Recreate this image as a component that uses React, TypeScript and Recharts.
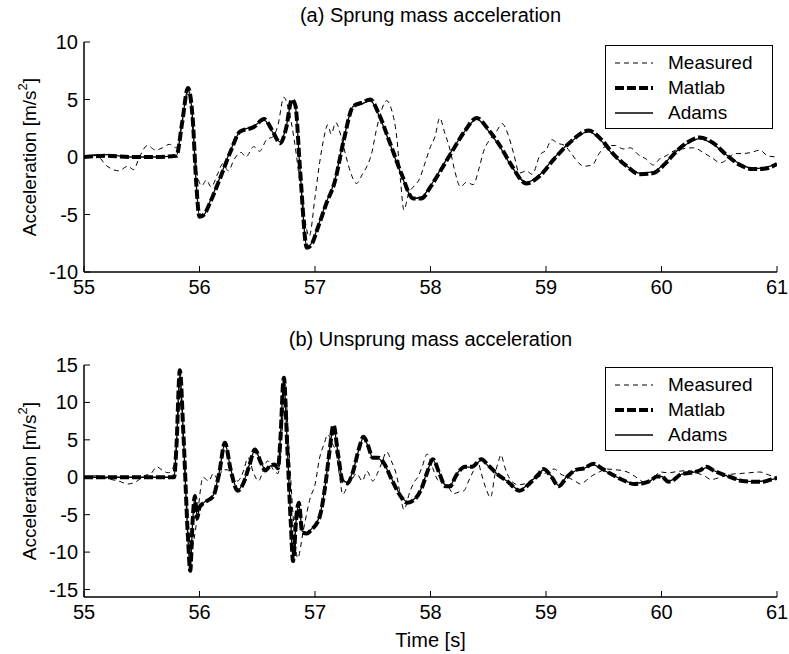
import React from "react"
import { LineChart, Line, XAxis, YAxis, Legend } from "recharts"

// time axis [s] and acceleration ticks [m/s^2]
const timeTicks = [55, 56, 57, 58, 59, 60, 61]
const sprungTicks = [-10, -5, 0, 5, 10]
const unsprungTicks = [-15, -10, -5, 0, 5, 10, 15]

// (a) sprung mass acceleration, [time, value]
const sprungMeasured: [number, number][] = [
  [55.0, 0], [55.1, 0.2], [55.2, -0.8], [55.3, -1.2], [55.38, -0.8], [55.43, -1.1], [55.48, 0],
  [55.55, 1.0], [55.62, 0.6], [55.68, 0.8], [55.74, 1.1], [55.8, 0.8], [55.85, 3.0], [55.9, 5.5],
  [55.94, 2.5], [55.98, -1.5], [56.02, -2.5], [56.06, -2.0], [56.1, -2.6], [56.16, -1.4], [56.2, -0.6],
  [56.25, -1.2], [56.3, -0.2], [56.36, 0.4], [56.4, 0.0], [56.47, 0.9], [56.52, 0.5], [56.58, 1.5],
  [56.64, 1.8], [56.68, 2.8], [56.73, 5.2], [56.77, 4.2], [56.82, 1.5], [56.88, -3.0], [56.95, -6.9],
  [57.0, -3.5], [57.04, -0.5], [57.08, 1.8], [57.11, 2.8], [57.14, 2.0], [57.18, 3.0], [57.22, 2.0],
  [57.27, 0.0], [57.31, -1.4], [57.36, -2.3], [57.41, -1.5], [57.45, -0.8], [57.49, 0.3], [57.53, 2.3],
  [57.58, 4.2], [57.62, 4.9], [57.66, 4.2], [57.71, 1.5], [57.74, -2.0], [57.77, -4.6], [57.81, -3.2],
  [57.86, -2.5], [57.9, -2.0], [57.95, -0.6], [58.0, 0.9], [58.04, 1.8], [58.08, 3.4], [58.12, 2.2],
  [58.17, 0.6], [58.21, -1.2], [58.26, -2.6], [58.31, -2.2], [58.37, -2.4], [58.42, -1.0], [58.46, 0.5],
  [58.52, 1.6], [58.57, 2.2], [58.62, 2.9], [58.67, 2.0], [58.72, 0.3], [58.77, -1.4], [58.83, -1.2],
  [58.88, -1.5], [58.95, 0.2], [59.0, 0.6], [59.05, 1.5], [59.1, 1.2], [59.16, 1.0], [59.22, 0.3],
  [59.28, -0.5], [59.33, -0.8], [59.4, -0.7], [59.46, 0.3], [59.53, 1.0], [59.6, 1.0], [59.67, 0.7],
  [59.73, 0.8], [59.8, 0.2], [59.87, -0.2], [59.93, -0.7], [59.98, -0.2], [60.04, 0.1], [60.1, 0.5],
  [60.18, 0.7], [60.28, 0.8], [60.36, 0.4], [60.44, -0.1], [60.51, -0.5], [60.57, -0.2], [60.63, 0.3],
  [60.7, 0.3], [60.78, 0.4], [60.85, 0.6], [60.92, 0.1], [61.0, 0.0],
]

const sprungMatlab: [number, number][] = [
  [55.0, 0], [55.2, 0.1], [55.4, 0], [55.6, 0], [55.8, 0.1], [55.85, 3.0], [55.9, 6.0], [55.94, 3.5],
  [55.97, -2.0], [56.0, -5.2], [56.04, -5.0], [56.09, -4.0], [56.18, -1.8], [56.27, 0.5], [56.35, 2.2],
  [56.47, 2.6], [56.56, 3.3], [56.63, 2.3], [56.7, 1.2], [56.75, 2.5], [56.8, 5.0], [56.83, 4.5],
  [56.87, -1.0], [56.93, -7.9], [56.97, -7.6], [57.03, -6.0], [57.1, -4.0], [57.17, -2.2], [57.25, 1.5],
  [57.33, 4.4], [57.4, 4.7], [57.48, 5.0], [57.55, 3.8], [57.65, 1.2], [57.75, -1.5], [57.85, -3.6],
  [57.92, -3.6], [58.0, -2.6], [58.05, -1.8], [58.2, 0.7], [58.3, 2.3], [58.4, 3.4], [58.5, 2.4],
  [58.6, 1.0], [58.7, -0.7], [58.83, -2.3], [58.95, -1.6], [59.06, -0.3], [59.2, 1.2], [59.37, 2.3],
  [59.48, 1.5], [59.58, 0.3], [59.7, -0.8], [59.81, -1.5], [59.93, -1.4], [60.03, -0.6], [60.13, 0.5],
  [60.23, 1.3], [60.33, 1.7], [60.45, 1.2], [60.56, 0.2], [60.68, -0.7], [60.79, -1.05], [60.9, -1.0],
  [61.0, -0.6],
]

const sprungAdams: [number, number][] = [
  [55.0, 0], [55.2, 0.2], [55.4, 0], [55.6, 0], [55.8, 0.1], [55.85, 3.1], [55.9, 5.9], [55.94, 3.4],
  [55.97, -2.1], [56.0, -5.1], [56.04, -5.0], [56.09, -3.9], [56.18, -1.7], [56.27, 0.6], [56.35, 2.2],
  [56.47, 2.7], [56.56, 3.2], [56.63, 2.2], [56.7, 1.3], [56.75, 2.6], [56.8, 4.9], [56.83, 4.4],
  [56.87, -1.1], [56.93, -7.8], [56.97, -7.5], [57.03, -5.9], [57.1, -3.9], [57.17, -2.1], [57.25, 1.6],
  [57.33, 4.4], [57.4, 4.6], [57.48, 4.9], [57.55, 3.7], [57.65, 1.1], [57.75, -1.6], [57.85, -3.6],
  [57.92, -3.5], [58.0, -2.5], [58.05, -1.7], [58.2, 0.8], [58.3, 2.3], [58.4, 3.3], [58.5, 2.3],
  [58.6, 0.9], [58.7, -0.8], [58.83, -2.2], [58.95, -1.5], [59.06, -0.2], [59.2, 1.2], [59.37, 2.2],
  [59.48, 1.4], [59.58, 0.2], [59.7, -0.8], [59.81, -1.4], [59.93, -1.3], [60.03, -0.5], [60.13, 0.5],
  [60.23, 1.2], [60.33, 1.6], [60.45, 1.1], [60.56, 0.2], [60.68, -0.6], [60.79, -1.0], [60.9, -0.9],
  [61.0, -0.6],
]

// (b) unsprung mass acceleration, [time, value]
const unsprungMeasured: [number, number][] = [
  [55.0, 0], [55.1, 0.2], [55.2, -0.2], [55.3, -0.5], [55.38, -0.9], [55.45, -0.6], [55.52, 0.2],
  [55.58, 0.5], [55.63, 1.4], [55.68, 0.9], [55.73, 0.6], [55.78, 1.6], [55.8, 4.0], [55.83, 12.5],
  [55.86, 5.0], [55.9, -6.0], [55.93, -9.5], [55.96, -7.6], [55.99, -4.0], [56.03, 0], [56.08, -0.5],
  [56.12, 0.5], [56.16, -0.3], [56.2, 1.0], [56.24, 1.0], [56.29, -0.3], [56.33, -0.5], [56.38, 0.8],
  [56.42, 2.6], [56.47, 0.5], [56.51, -0.5], [56.55, 0.8], [56.59, 2.2], [56.64, 1.0], [56.68, 0.5],
  [56.71, 5.0], [56.74, 12.5], [56.77, 5.0], [56.81, -5.0], [56.85, -10.8], [56.9, -7.0], [56.96, -2.7],
  [57.0, -1.0], [57.04, 2.6], [57.08, 4.5], [57.11, 5.7], [57.15, 4.5], [57.18, 3.4], [57.21, 0.5],
  [57.24, -2.3], [57.28, -1.2], [57.32, -0.3], [57.36, 0.5], [57.41, -0.5], [57.45, 0.8], [57.5, -0.5],
  [57.54, 0.5], [57.58, 2.0], [57.62, 3.4], [57.66, 2.2], [57.71, 0], [57.74, -2.5], [57.77, -4.3],
  [57.82, -2.0], [57.86, -0.6], [57.89, 0], [57.93, 1.5], [57.97, 3.1], [58.02, 1.2], [58.06, -0.3],
  [58.1, -0.7], [58.15, -1.2], [58.2, -2.2], [58.24, -2.0], [58.29, -1.8], [58.33, -0.5], [58.37, 0.8],
  [58.41, 2.0], [58.44, 0.5], [58.48, -1.5], [58.52, -2.7], [58.56, 0.5], [58.59, 2.2], [58.61, 3.0],
  [58.64, 1.5], [58.7, -0.5], [58.76, -1.0], [58.81, -0.9], [58.87, -0.4], [58.93, 0], [59.0, 0.6],
  [59.07, 1.1], [59.13, 0.4], [59.19, 0], [59.25, -0.5], [59.3, -0.9], [59.35, -0.4], [59.4, 0.2],
  [59.46, 0.7], [59.53, 1.1], [59.6, 1.0], [59.66, 0.9], [59.72, 0.6], [59.8, -0.2], [59.87, -0.9],
  [59.93, -0.1], [59.99, 0.7], [60.06, 0.6], [60.15, 0.8], [60.23, 0.9], [60.3, 0.6], [60.37, 0.2],
  [60.43, -0.3], [60.51, 0], [60.6, 0.4], [60.68, 0.5], [60.76, 0.6], [60.85, 0.7], [60.93, 0.3],
  [61.0, 0],
]

const unsprungMatlab: [number, number][] = [
  [55.0, 0], [55.2, 0], [55.4, 0], [55.6, 0], [55.78, 0], [55.8, 4.0], [55.83, 14.3], [55.86, 6.0],
  [55.9, -8.0], [55.92, -12.5], [55.94, -6.0], [55.96, -2.5], [55.98, -5.5], [56.0, -4.0], [56.06, -3.2],
  [56.12, -2.5], [56.17, 0.5], [56.22, 4.6], [56.27, 1.0], [56.33, -1.8], [56.38, -0.8], [56.43, 1.5],
  [56.48, 3.7], [56.53, 2.0], [56.57, 0.9], [56.61, 1.5], [56.65, 1.7], [56.68, 1.2], [56.7, 5.0],
  [56.73, 13.3], [56.76, 4.0], [56.79, -6.0], [56.81, -11.2], [56.84, -5.0], [56.86, -3.4], [56.89, -7.4],
  [56.93, -7.5], [56.97, -7.0], [57.04, -5.3], [57.09, -1.0], [57.13, 4.0], [57.16, 7.0], [57.2, 3.0],
  [57.24, -0.5], [57.28, -0.8], [57.33, 0.8], [57.38, 3.8], [57.42, 5.4], [57.46, 4.2], [57.5, 2.6],
  [57.55, 2.6], [57.6, 1.8], [57.67, -0.5], [57.74, -2.5], [57.8, -3.4], [57.86, -3.0], [57.92, -1.6],
  [57.97, 0.6], [58.02, 2.4], [58.08, 0.4], [58.13, -1.2], [58.17, -1.2], [58.22, 0.2], [58.3, 1.4],
  [58.36, 1.4], [58.44, 2.4], [58.5, 1.6], [58.58, 0.4], [58.67, -0.6], [58.77, -1.8], [58.86, -0.8],
  [58.93, 0.3], [58.98, 1.1], [59.05, 0], [59.11, -1.2], [59.18, 0.0], [59.26, 1.0], [59.33, 1.2],
  [59.41, 1.8], [59.48, 1.2], [59.58, 0.3], [59.67, -0.4], [59.76, -0.9], [59.84, -0.8], [59.9, -0.5],
  [59.96, 0.1], [60.0, 0.1], [60.06, -0.6], [60.1, -0.4], [60.17, 0.4], [60.25, 0.6], [60.33, 0.9],
  [60.39, 1.4], [60.45, 0.9], [60.53, 0.4], [60.62, -0.1], [60.7, -0.5], [60.8, -0.6], [60.88, -0.6],
  [60.95, -0.3], [61.0, -0.1],
]

const unsprungAdams: [number, number][] = [
  [55.0, 0], [55.2, 0], [55.4, 0], [55.6, 0], [55.78, 0], [55.8, 4.2], [55.83, 14.0], [55.86, 5.8],
  [55.9, -8.2], [55.92, -12.2], [55.94, -6.2], [55.96, -2.7], [55.98, -5.3], [56.0, -4.1], [56.06, -3.1],
  [56.12, -2.4], [56.17, 0.6], [56.22, 4.5], [56.27, 1.1], [56.33, -1.7], [56.38, -0.7], [56.43, 1.6],
  [56.48, 3.6], [56.53, 2.1], [56.57, 1.0], [56.61, 1.5], [56.65, 1.6], [56.68, 1.3], [56.7, 5.2],
  [56.73, 13.0], [56.76, 4.2], [56.79, -5.8], [56.81, -11.0], [56.84, -5.2], [56.86, -3.6], [56.89, -7.2],
  [56.93, -7.4], [56.97, -6.9], [57.04, -5.2], [57.09, -0.9], [57.13, 4.1], [57.16, 6.8], [57.2, 3.1],
  [57.24, -0.4], [57.28, -0.7], [57.33, 0.9], [57.38, 3.7], [57.42, 5.3], [57.46, 4.1], [57.5, 2.6],
  [57.55, 2.5], [57.6, 1.7], [57.67, -0.4], [57.74, -2.4], [57.8, -3.3], [57.86, -2.9], [57.92, -1.5],
  [57.97, 0.7], [58.02, 2.3], [58.08, 0.5], [58.13, -1.1], [58.17, -1.1], [58.22, 0.3], [58.3, 1.4],
  [58.36, 1.3], [58.44, 2.3], [58.5, 1.5], [58.58, 0.4], [58.67, -0.6], [58.77, -1.7], [58.86, -0.7],
  [58.93, 0.3], [58.98, 1.0], [59.05, 0.1], [59.11, -1.1], [59.18, 0.1], [59.26, 0.9], [59.33, 1.2],
  [59.41, 1.7], [59.48, 1.1], [59.58, 0.3], [59.67, -0.4], [59.76, -0.8], [59.84, -0.7], [59.9, -0.5],
  [59.96, 0.1], [60.0, 0.1], [60.06, -0.5], [60.1, -0.3], [60.17, 0.4], [60.25, 0.6], [60.33, 0.9],
  [60.39, 1.3], [60.45, 0.9], [60.53, 0.4], [60.62, -0.1], [60.7, -0.4], [60.8, -0.6], [60.88, -0.5],
  [60.95, -0.3], [61.0, -0.1],
]

const FONT = '"Liberation Sans", Arial, Helvetica, sans-serif'
const FS = 20

const seriesStyle = [
  { name: "Measured", width: 1, dash: "5 4" },
  { name: "Matlab", width: 4, dash: "9 3" },
  { name: "Adams", width: 1.3, dash: undefined as string | undefined },
]

const toPoints = (arr: [number, number][]) => arr.map(([t, v]) => ({ t, v }))

// matlab style ticks: pointing into the box
const BottomTick = (props: any) => {
  const { x, y, payload } = props
  return (
    <g>
      <line x1={x} y1={y} x2={x} y2={y - 6} stroke="#000" strokeWidth={1} />
      <text x={x} y={y + 22} textAnchor="middle" fontSize={FS} fontFamily={FONT} fill="#000">
        {payload.value}
      </text>
    </g>
  )
}

const TopTick = (props: any) => {
  const { x, y } = props
  return <line x1={x} y1={y} x2={x} y2={y + 6} stroke="#000" strokeWidth={1} />
}

const LeftTick = (props: any) => {
  const { x, y, payload } = props
  return (
    <g>
      <line x1={x} y1={y} x2={x + 6} y2={y} stroke="#000" strokeWidth={1} />
      <text x={x - 6} y={y + 7} textAnchor="end" fontSize={FS} fontFamily={FONT} fill="#000">
        {payload.value}
      </text>
    </g>
  )
}

const RightTick = (props: any) => {
  const { x, y } = props
  return <line x1={x} y1={y} x2={x - 6} y2={y} stroke="#000" strokeWidth={1} />
}

const AccelLabel = (props: any) => {
  const vb = props.viewBox || {}
  const cx = vb.x + 5
  const cy = vb.y + vb.height / 2
  return (
    <text
      x={cx}
      y={cy}
      transform={`rotate(-90, ${cx}, ${cy})`}
      textAnchor="middle"
      dominantBaseline="central"
      fontSize={19}
      fontFamily={FONT}
      fill="#000"
    >
      Acceleration [m/s
      <tspan dy={-7} fontSize={13}>2</tspan>
      <tspan dy={7}>]</tspan>
    </text>
  )
}

const TimeLabel = (props: any) => {
  const vb = props.viewBox || {}
  return (
    <text x={vb.x + vb.width / 2} y={vb.y + 50} textAnchor="middle" fontSize={FS} fontFamily={FONT} fill="#000">
      Time [s]
    </text>
  )
}

const LegendBox = () => (
  <div
    style={{
      position: "relative",
      width: 168,
      height: 84,
      boxSizing: "border-box",
      border: "1.5px solid #000",
      background: "#fff",
      fontFamily: FONT,
      fontSize: 19,
    }}
  >
    {seriesStyle.map((s, i) => (
      <div key={s.name} style={{ position: "absolute", left: 0, top: 5 + i * 25, height: 24, width: 166 }}>
        <svg width={50} height={24} style={{ position: "absolute", left: 0, top: 0 }}>
          <line x1={9} y1={12} x2={47} y2={12} stroke="#000" strokeWidth={s.width} strokeDasharray={s.dash} />
        </svg>
        <span style={{ position: "absolute", left: 62, top: 0, lineHeight: "24px", color: "#000" }}>{s.name}</span>
      </div>
    ))}
  </div>
)

const Panel = ({
  height,
  margin,
  domain,
  ticks,
  measured,
  matlab,
  adams,
  legendTop,
  showTime,
}: {
  height: number
  margin: { top: number; right: number; bottom: number; left: number }
  domain: [number, number]
  ticks: number[]
  measured: [number, number][]
  matlab: [number, number][]
  adams: [number, number][]
  legendTop: number
  showTime: boolean
}) => {
  const lines = [measured, adams, matlab]
  const styles = [seriesStyle[0], seriesStyle[2], seriesStyle[1]]
  return (
    <LineChart width={789} height={height} margin={margin}>
      <XAxis
        xAxisId="b"
        dataKey="t"
        type="number"
        domain={[55, 61]}
        ticks={timeTicks}
        allowDataOverflow
        height={30}
        tickSize={0}
        tickMargin={0}
        tick={<BottomTick />}
        axisLine={{ stroke: "#000", strokeWidth: 1.5 }}
        label={showTime ? <TimeLabel /> : undefined}
      />
      <XAxis
        xAxisId="top"
        orientation="top"
        dataKey="t"
        type="number"
        domain={[55, 61]}
        ticks={timeTicks}
        allowDataOverflow
        height={0}
        tickSize={0}
        tickMargin={0}
        tick={<TopTick />}
        axisLine={{ stroke: "#000", strokeWidth: 1.5 }}
      />
      <YAxis
        yAxisId="l"
        type="number"
        domain={domain}
        ticks={ticks}
        allowDataOverflow
        width={60}
        tickSize={0}
        tickMargin={0}
        tick={<LeftTick />}
        axisLine={{ stroke: "#000", strokeWidth: 1.5 }}
        label={<AccelLabel />}
      />
      <YAxis
        yAxisId="r"
        orientation="right"
        type="number"
        domain={domain}
        ticks={ticks}
        allowDataOverflow
        width={0}
        tickSize={0}
        tickMargin={0}
        tick={<RightTick />}
        axisLine={{ stroke: "#000", strokeWidth: 1.5 }}
      />
      {lines.map((d, i) => (
        <Line
          key={styles[i].name}
          name={styles[i].name}
          xAxisId="b"
          yAxisId="l"
          data={toPoints(d)}
          dataKey="v"
          type="monotone"
          stroke="#000"
          strokeWidth={styles[i].width}
          strokeDasharray={styles[i].dash}
          dot={false}
          activeDot={false}
          isAnimationActive={false}
        />
      ))}
      <Legend
        layout="vertical"
        align="center"
        verticalAlign="middle"
        content={() => <LegendBox />}
        wrapperStyle={{ top: legendTop, left: 605, width: 168, height: 84 }}
      />
    </LineChart>
  )
}

const titleStyle: React.CSSProperties = {
  position: "absolute",
  left: 84,
  width: 693,
  height: 22,
  lineHeight: "22px",
  textAlign: "center",
  fontFamily: FONT,
  fontSize: FS,
  color: "#000",
}

export default function App() {
  return (
    <div style={{ position: "absolute", left: 0, top: 0, width: 789, height: 654, background: "#fff" }}>
      <div style={{ position: "absolute", left: 0, top: 0 }}>
        <Panel
          height={310}
          margin={{ top: 42, right: 12, bottom: 8, left: 24 }}
          domain={[-10, 10]}
          ticks={sprungTicks}
          measured={sprungMeasured}
          matlab={sprungMatlab}
          adams={sprungAdams}
          legendTop={45}
          showTime={false}
        />
      </div>
      <div style={{ position: "absolute", left: 0, top: 320 }}>
        <Panel
          height={334}
          margin={{ top: 45, right: 12, bottom: 27, left: 24 }}
          domain={[-16, 15]}
          ticks={unsprungTicks}
          measured={unsprungMeasured}
          matlab={unsprungMatlab}
          adams={unsprungAdams}
          legendTop={47}
          showTime={true}
        />
      </div>
      <div style={{ ...titleStyle, top: 4 }}>(a) Sprung mass acceleration</div>
      <div style={{ ...titleStyle, top: 328 }}>(b) Unsprung mass acceleration</div>
    </div>
  )
}
